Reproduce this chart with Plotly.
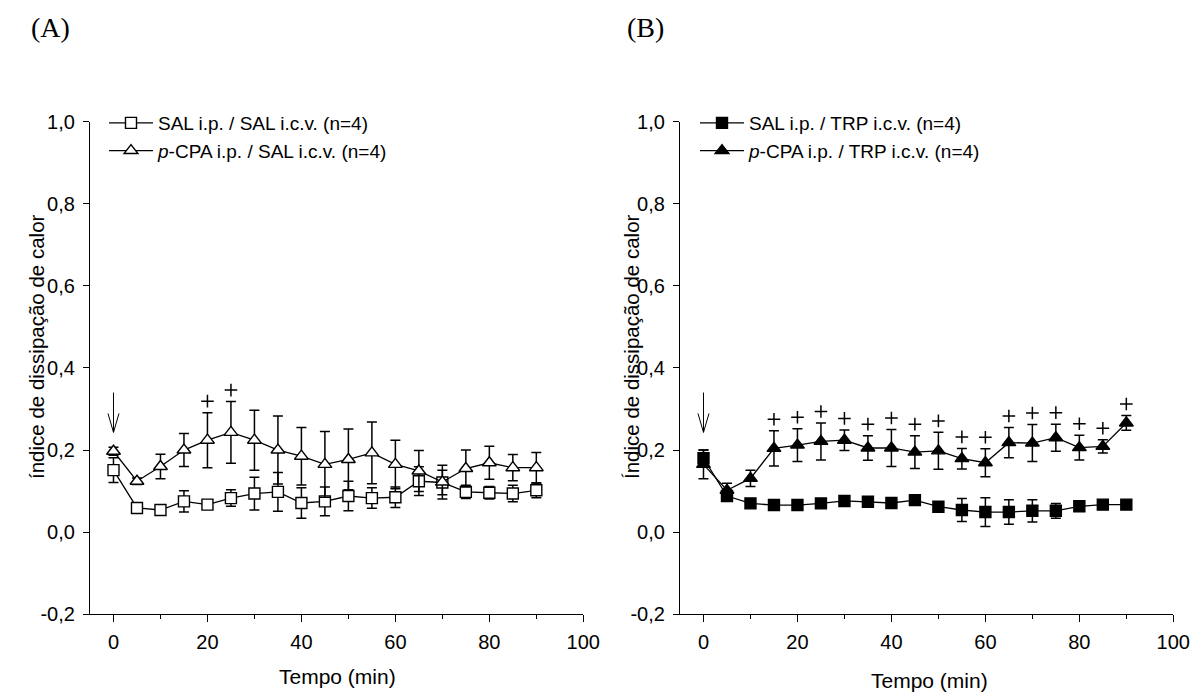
import plotly.graph_objects as go

W, H = 1193, 695

# ---------------- data ----------------
time_min = [0, 5, 10, 15, 20, 25, 30, 35, 40, 45, 50, 55, 60, 65, 70, 75, 80, 85, 90]

# Panel A
sal_sal_mean = [0.151, 0.059, 0.054, 0.075, 0.067, 0.083, 0.094, 0.098, 0.071, 0.075,
                0.088, 0.083, 0.085, 0.124, 0.121, 0.098, 0.096, 0.094, 0.102]
sal_sal_sem = [0.030, 0.005, 0.005, 0.026, 0.010, 0.020, 0.040, 0.047, 0.037, 0.035,
               0.036, 0.025, 0.025, 0.035, 0.030, 0.016, 0.015, 0.020, 0.018]
pcpa_sal_mean = [0.197, 0.124, 0.160, 0.200, 0.224, 0.243, 0.224, 0.200, 0.185, 0.165,
                 0.177, 0.193, 0.165, 0.149, 0.122, 0.155, 0.169, 0.157, 0.157]
pcpa_sal_sem = [0.010, 0.008, 0.030, 0.040, 0.067, 0.075, 0.073, 0.083, 0.070, 0.080,
                0.074, 0.075, 0.059, 0.050, 0.041, 0.045, 0.040, 0.032, 0.037]
plus_times_A = [20, 25]

# Panel B
sal_trp_mean = [0.180, 0.088, 0.070, 0.066, 0.066, 0.070, 0.076, 0.074, 0.071, 0.078,
                0.062, 0.054, 0.049, 0.049, 0.052, 0.052, 0.063, 0.067, 0.067]
sal_trp_sem = [0.020, 0.008, 0.008, 0.006, 0.006, 0.006, 0.006, 0.006, 0.006, 0.006,
               0.010, 0.028, 0.035, 0.030, 0.027, 0.018, 0.006, 0.006, 0.006]
pcpa_trp_mean = [0.165, 0.102, 0.131, 0.204, 0.212, 0.221, 0.224, 0.205, 0.205, 0.195,
                 0.198, 0.179, 0.169, 0.218, 0.217, 0.230, 0.206, 0.209, 0.266]
pcpa_trp_sem = [0.035, 0.017, 0.020, 0.043, 0.040, 0.045, 0.025, 0.030, 0.045, 0.040,
                0.045, 0.025, 0.034, 0.037, 0.045, 0.033, 0.030, 0.016, 0.018]
plus_times_B = [15, 20, 25, 30, 35, 40, 45, 50, 55, 60, 65, 70, 75, 80, 85, 90]

injection_time = 0

x_tickvals = [0, 20, 40, 60, 80, 100]
x_ticktext = ["0", "20", "40", "60", "80", "100"]
y_tickvals = [-0.2, 0.0, 0.2, 0.4, 0.6, 0.8, 1.0]
y_ticktext = ["-0,2", "0,0", "0,2", "0,4", "0,6", "0,8", "1,0"]

names_A = ["SAL i.p. / SAL i.c.v. (n=4)", "<i>p</i>-CPA i.p. / SAL i.c.v. (n=4)"]
names_B = ["SAL i.p. / TRP i.c.v. (n=4)", "<i>p</i>-CPA i.p. / TRP i.c.v. (n=4)"]

# ---------------- helpers ----------------
FONT = "Liberation Sans, Arial, Helvetica, sans-serif"
PLUS_GAP = 0.028  # distance of the "+" mark above the top of the error bar (data units)


def px_x(p):
    return p / W


def px_y(p):
    return 1 - p / H


def series(x, y, e, name, symbol, fill, xa, ya, legend):
    return go.Scatter(
        x=x, y=y, name=name, mode="lines+markers",
        xaxis=xa, yaxis=ya, legend=legend,
        line=dict(color="black", width=1.3),
        marker=dict(symbol=symbol, size=12 if "triangle" in symbol else 11,
                    color=fill, line=dict(color="black", width=1.4)),
        error_y=dict(type="data", array=e, visible=True, color="black",
                     thickness=1.5, width=5),
        cliponaxis=False,
    )


def plus_marks(times, mean, sem, xa, ya):
    idx = [time_min.index(t) for t in times]
    return go.Scatter(
        x=[time_min[i] for i in idx],
        y=[mean[i] + sem[i] + PLUS_GAP for i in idx],
        mode="markers", xaxis=xa, yaxis=ya, showlegend=False, hoverinfo="skip",
        marker=dict(symbol="cross-thin", size=9, color="black",
                    line=dict(color="black", width=1.5)),
        cliponaxis=False,
    )


fig = go.Figure()
fig.add_trace(series(time_min, sal_sal_mean, sal_sal_sem, names_A[0], "square", "white", "x", "y", "legend"))
fig.add_trace(series(time_min, pcpa_sal_mean, pcpa_sal_sem, names_A[1], "triangle-up", "white", "x", "y", "legend"))
fig.add_trace(series(time_min, sal_trp_mean, sal_trp_sem, names_B[0], "square", "black", "x2", "y2", "legend2"))
fig.add_trace(series(time_min, pcpa_trp_mean, pcpa_trp_sem, names_B[1], "triangle-up", "black", "x2", "y2", "legend2"))
fig.add_trace(plus_marks(plus_times_A, pcpa_sal_mean, pcpa_sal_sem, "x", "y"))
fig.add_trace(plus_marks(plus_times_B, pcpa_trp_mean, pcpa_trp_sem, "x2", "y2"))

annotations = []
shapes = []

# injection arrows (open V head)
arrow_top, arrow_tip, head_dx, head_dy = 0.34, 0.243, 1.17, 0.046
for xr, yr in (("x", "y"), ("x2", "y2")):
    t = injection_time
    path = (f"M{t},{arrow_top} L{t},{arrow_tip} "
            f"M{t - head_dx},{arrow_tip + head_dy} L{t},{arrow_tip} L{t + head_dx},{arrow_tip + head_dy}")
    shapes.append(dict(type="path", path=path, xref=xr, yref=yr,
                       line=dict(color="black", width=1)))

# panel labels
for txt, px in (("(A)", 50), ("(B)", 645)):
    annotations.append(dict(x=px_x(px), y=px_y(27), xref="paper", yref="paper",
                            text=txt, showarrow=False, xanchor="center", yanchor="middle",
                            font=dict(family="Liberation Serif, Times New Roman, serif", size=28, color="black")))

# axis titles
for txt, px, py in (("Tempo (min)", 337, 676), ("Tempo (min)", 929, 680)):
    annotations.append(dict(x=px_x(px), y=px_y(py), xref="paper", yref="paper",
                            text=txt, showarrow=False, xanchor="center", yanchor="middle",
                            font=dict(family=FONT, size=21, color="black")))
for txt, px, py in (("índice de dissipação de calor", 36, 347), ("Índice de dissipação de calor", 631, 347)):
    annotations.append(dict(x=px_x(px), y=px_y(py), xref="paper", yref="paper",
                            text=txt, showarrow=False, xanchor="center", yanchor="middle",
                            textangle=-90, font=dict(family=FONT, size=20.5, color="black")))

xaxis_common = dict(
    range=[-5, 100], showgrid=False, zeroline=False, showline=True, linecolor="black",
    linewidth=1.3, ticks="outside", ticklen=7, tickwidth=1.3, tickcolor="black",
    tickvals=x_tickvals, ticktext=x_ticktext, ticklabelstandoff=3,
    tickfont=dict(family=FONT, size=20, color="black"),
    minor=dict(tickvals=[10, 30, 50, 70, 90], ticks="outside", ticklen=4, tickwidth=1.3, tickcolor="black"),
    automargin=False,
)
yaxis_common = dict(
    range=[-0.2, 1.0], showgrid=False, zeroline=False, showline=True, linecolor="black",
    linewidth=1.3, ticks="outside", ticklen=6, tickwidth=1.3, tickcolor="black",
    tickvals=y_tickvals, ticktext=y_ticktext, ticklabelstandoff=4,
    tickfont=dict(family=FONT, size=20, color="black"),
    automargin=False,
)

ydom = [px_y(614.3), px_y(121.5)]

fig.update_layout(
    width=W, height=H, margin=dict(l=0, r=0, t=0, b=0, pad=0, autoexpand=False),
    paper_bgcolor="white", plot_bgcolor="white",
    font=dict(family=FONT, color="black"),
    xaxis=dict(xaxis_common, domain=[px_x(90), px_x(583.3)], anchor="y"),
    yaxis=dict(yaxis_common, domain=ydom, anchor="x"),
    xaxis2=dict(xaxis_common, domain=[px_x(680), px_x(1173.3)], anchor="y2"),
    yaxis2=dict(yaxis_common, domain=ydom, anchor="x2"),
    legend=dict(x=px_x(104), y=px_y(104), xanchor="left", yanchor="top",
                bgcolor="rgba(0,0,0,0)", font=dict(family=FONT, size=19, color="black"),
                itemwidth=44, tracegroupgap=0),
    legend2=dict(x=px_x(695), y=px_y(104), xanchor="left", yanchor="top",
                 bgcolor="rgba(0,0,0,0)", font=dict(family=FONT, size=19, color="black"),
                 itemwidth=44, tracegroupgap=0),
    showlegend=True,
    annotations=annotations,
    shapes=shapes,
)

fig.write_html("out.html", config={"displayModeBar": False},
               post_script="document.body.style.margin='0px';document.body.style.padding='0px';")
